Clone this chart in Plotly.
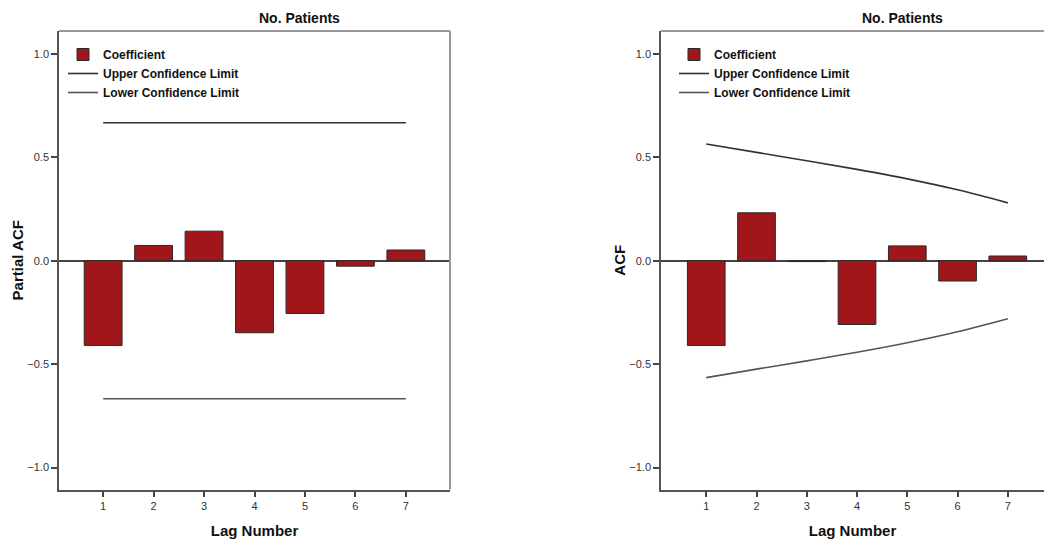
import plotly.graph_objects as go

# ---- data ----
lags = [1, 2, 3, 4, 5, 6, 7]
pacf_coef = [-0.410, 0.074, 0.143, -0.348, -0.255, -0.026, 0.052]
pacf_upper = [0.667, 0.667, 0.667, 0.667, 0.667, 0.667, 0.667]
pacf_lower = [-0.667, -0.667, -0.667, -0.667, -0.667, -0.667, -0.667]

acf_coef = [-0.410, 0.232, -0.004, -0.308, 0.072, -0.098, 0.023]
acf_upper = [0.565, 0.524, 0.484, 0.442, 0.396, 0.343, 0.280]
acf_lower = [-0.565, -0.524, -0.484, -0.442, -0.396, -0.343, -0.280]

y_ticks = [-1.0, -0.5, 0.0, 0.5, 1.0]
panel_title = "No. Patients"
left_ytitle = "Partial ACF"
right_ytitle = "ACF"
x_title = "Lag Number"
names = ["Coefficient", "Upper Confidence Limit", "Lower Confidence Limit"]

W, H = 1044, 543
FONT = "Liberation Sans Narrow, Arial Narrow, Liberation Sans, Arial, sans-serif"
BAR_FILL = "#a0161b"
BAR_LINE = "#2a2a2a"
UP_COL = "#333333"
LO_COL = "#555555"

fig = go.Figure()

def add_panel(coef, upper, lower, xa, ya, legend):
    fig.add_trace(go.Bar(
        x=lags, y=coef, width=0.75, name=names[0],
        marker=dict(color=BAR_FILL, line=dict(color=BAR_LINE, width=1)),
        xaxis=xa, yaxis=ya, legend=legend, hoverinfo="x+y"))
    fig.add_trace(go.Scatter(
        x=lags, y=upper, mode="lines", name=names[1],
        line=dict(color=UP_COL, width=1.6, shape="spline"),
        xaxis=xa, yaxis=ya, legend=legend))
    fig.add_trace(go.Scatter(
        x=lags, y=lower, mode="lines", name=names[2],
        line=dict(color=LO_COL, width=1.6, shape="spline"),
        xaxis=xa, yaxis=ya, legend=legend))

add_panel(pacf_coef, pacf_upper, pacf_lower, "x", "y", "legend")
add_panel(acf_coef, acf_upper, acf_lower, "x2", "y2", "legend2")

ydom = [1 - 489.5 / H, 1 - 31 / H]
tickfont = dict(family=FONT, size=11, color="#333333")
titlefont = dict(family=FONT, size=15, color="#111111", weight="bold")

xcommon = dict(
    tickmode="array", tickvals=lags, ticks="outside", ticklen=6,
    tickwidth=1.5, tickcolor="#444444", tickfont=tickfont,
    showgrid=False, zeroline=False, showline=True, linecolor="#555555",
    linewidth=1.5, fixedrange=True, automargin=False,
    title=dict(text=x_title, font=titlefont, standoff=14),
)
ycommon = dict(
    tickmode="array", tickvals=y_ticks, tickformat=".1f", ticks="outside",
    ticklen=6, tickwidth=1.5, tickcolor="#444444", tickfont=tickfont,
    showgrid=False, zeroline=True, zerolinecolor="#444444", zerolinewidth=1.5,
    showline=True, linecolor="#555555", linewidth=1.5,
    range=[-1.106, 1.111], fixedrange=True, automargin=False,
)

legfont = dict(family=FONT, size=12, color="#111111", weight="bold")

fig.update_layout(
    width=W, height=H,
    margin=dict(l=0, r=0, t=0, b=0, autoexpand=False),
    paper_bgcolor="white", plot_bgcolor="white",
    barmode="overlay",
    xaxis=dict(domain=[59 / W, 450 / W], range=[0.125, 7.875], anchor="y", **xcommon),
    yaxis=dict(domain=ydom, anchor="x",
               title=dict(text=left_ytitle, font=titlefont, standoff=0), **ycommon),
    xaxis2=dict(domain=[661 / W, 1.0], range=[0.1, 7.72], anchor="y2", **xcommon),
    yaxis2=dict(domain=ydom, anchor="x2",
                title=dict(text=right_ytitle, font=titlefont, standoff=0), **ycommon),
    legend=dict(x=63 / W, y=1 - 40 / H, xanchor="left", yanchor="top",
                bgcolor="rgba(0,0,0,0)", font=legfont,
                tracegroupgap=0, itemclick=False, itemdoubleclick=False),
    legend2=dict(x=674 / W, y=1 - 40 / H, xanchor="left", yanchor="top",
                 bgcolor="rgba(0,0,0,0)", font=legfont,
                 tracegroupgap=0, itemclick=False, itemdoubleclick=False),
    showlegend=True,
)

# panel titles
for xc in (299 / W, 902 / W):
    fig.add_annotation(text=panel_title, x=xc, y=1 - 18.5 / H, xref="paper",
                       yref="paper", showarrow=False, xanchor="center",
                       yanchor="middle",
                       font=dict(family=FONT, size=14, color="#111111", weight="bold"))

# frame (top and right edges, lighter grey)
frame = dict(color="#999999", width=2)
fig.add_shape(type="line", xref="x domain", yref="y domain", x0=0, x1=1, y0=1, y1=1, line=frame)
fig.add_shape(type="line", xref="x domain", yref="y domain", x0=1, x1=1, y0=0, y1=1, line=frame)
fig.add_shape(type="line", xref="x2 domain", yref="y2 domain", x0=0, x1=1, y0=1, y1=1, line=frame)

fig.write_html(
    "out.html",
    config={"displayModeBar": False},
    post_script="document.body.style.margin='0';document.body.style.overflow='hidden';",
)
